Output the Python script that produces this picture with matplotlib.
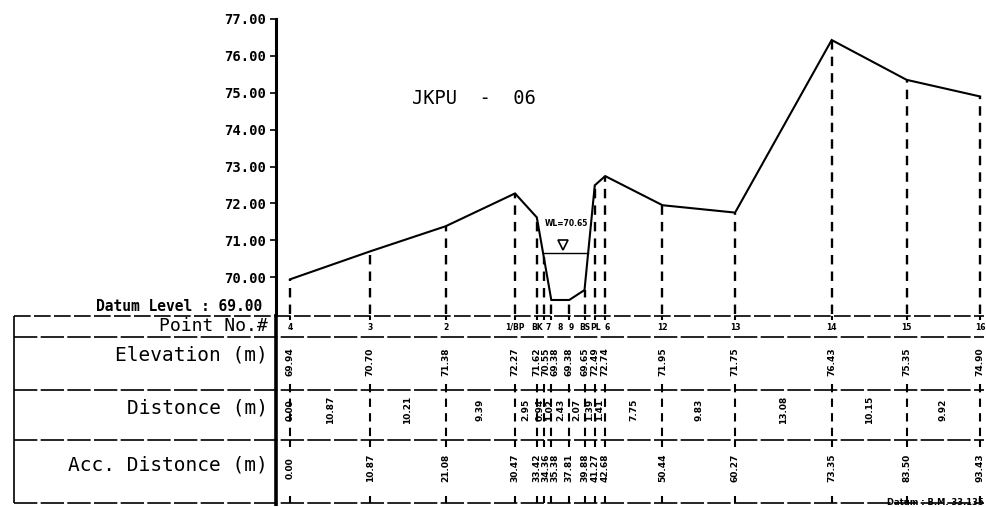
import numpy as np
import matplotlib
matplotlib.use("Agg")
import matplotlib.pyplot as plt

# cross-section JKPU-06 survey data
point_no = ["4", "3", "2", "1/BP", "BK", "7", "8", "9", "BS", "PL", "6",
            "12", "13", "14", "15", "16"]
acc_dist = [0.00, 10.87, 21.08, 30.47, 33.42, 34.36, 35.38, 37.81, 39.88,
            41.27, 42.68, 50.44, 60.27, 73.35, 83.50, 93.43]
elevation = [69.94, 70.70, 71.38, 72.27, 71.62, 70.55, 69.38, 69.38, 69.65,
             72.49, 72.74, 71.95, 71.75, 76.43, 75.35, 74.90]
distance = [0.00, 10.87, 10.21, 9.39, 2.95, 0.94, 1.02, 2.43, 2.07, 1.39,
            1.41, 7.75, 9.83, 13.08, 10.15, 9.92]
water_level = 70.65
datum = 69.00

W, H = 986, 507
PX = 7.385      # pixels per metre along the section
X0 = 290        # pixel of chainage 0
MONO = "DejaVu Sans Mono"


def xd(p):
    return (p - X0) / PX


def spread(xs, gap):
    # push crowded label positions apart (gap in metres)
    out = list(xs)
    for i in range(1, len(out)):
        if out[i] - out[i - 1] < gap:
            out[i] = out[i - 1] + gap
    return out


fig = plt.figure(figsize=(W / 100, H / 100), dpi=100)
bold = dict(fontweight="bold", color="black", family="DejaVu Sans")

# ---- profile ----
ax = fig.add_axes([276 / W, (H - 314) / H, (984 - 276) / W, (314 - 19) / H])
ax.set_xlim(xd(276), xd(984))
ax.set_ylim(datum, 77.0)
ax.plot(acc_dist, elevation, color="black", lw=1.5, solid_joinstyle="miter")
ax.vlines(acc_dist, datum, elevation, colors="black", linestyles=(0, (4, 3)), lw=1.7)

# water surface
ax.plot([34.27, 40.37], [water_level, water_level], color="black", lw=1.0)
ax.plot(37.0, water_level + 0.22, marker="v", ms=7, mfc="white", mec="black", mew=1.2)
ax.text(37.5, 71.45, f"WL={water_level:.2f}", fontsize=5.5, ha="center", va="center", **bold)

ax.text(xd(474), 74.85, "JKPU  -  06", fontsize=13.5, ha="center", va="center",
        color="black", family=MONO)

for s in ["top", "right", "bottom"]:
    ax.spines[s].set_visible(False)
ax.spines["left"].set_linewidth(2.2)
ax.set_xticks([])
ax.set_yticks(np.arange(70, 78))
ax.set_yticklabels([f"{v:.2f}" for v in np.arange(70, 78)], fontsize=10,
                   fontweight="bold", family=MONO)
ax.tick_params(axis="y", length=4, width=1.2, pad=3)
ax.text(xd(262), datum, "Datum Level : 69.00", fontsize=10.5, ha="right", va="bottom",
        fontweight="bold", color="black", family=MONO)

# ---- data table under the profile ----
tb = fig.add_axes([12 / W, 0, (984 - 12) / W, (H - 314) / H])
tb.set_xlim(xd(12), xd(984))
tb.set_ylim(H, 314)
tb.axis("off")

rows = [316, 337, 390, 440, 503]
x_left, x_right = xd(14), xd(986)
tb.hlines(rows[0], x_left, x_right, colors="black", lw=1.2, linestyles=(0, (10, 2)))
tb.hlines(rows[1:], x_left, x_right, colors="black", lw=1.2, linestyles=(0, (14, 2)))
tb.vlines(x_left, rows[0], rows[-1], colors="black", lw=1.2)
tb.vlines(xd(276), 314, 506, colors="black", lw=2.6)

labels = ["Point No.#", "Elevation (m)", "Distonce (m)", "Acc. Distonce (m)"]
label_y = [326, 355, 408, 465]
label_fs = [13, 14, 14, 14]
for txt, yy, fs in zip(labels, label_y, label_fs):
    tb.text(xd(268), yy, txt, fontsize=fs, ha="right", va="center",
            color="black", family=MONO)

tb.vlines(acc_dist, 384, 440, colors="black", lw=1.5, linestyles=(0, (4, 3)))
tb.vlines(acc_dist, 440, 447, colors="black", lw=1.5)
tb.vlines(acc_dist, 496, 503, colors="black", lw=1.5)
tb.vlines(acc_dist, 316, 320, colors="black", lw=1.5)

pt_x = spread(acc_dist, 11.5 / PX)
for i, x in enumerate(pt_x):
    tb.text(x, 327, point_no[i], fontsize=5.5, ha="center", va="center", **bold)

lab_x = spread(acc_dist, 9.0 / PX)
for i, x in enumerate(lab_x):
    tb.text(x, 362, f"{elevation[i]:.2f}", fontsize=6.5, rotation=90,
            ha="center", va="center", **bold)
    tb.text(x, 468, f"{acc_dist[i]:.2f}", fontsize=6.5, rotation=90,
            ha="center", va="center", **bold)

mids = [acc_dist[0]] + [(acc_dist[i - 1] + acc_dist[i]) / 2 for i in range(1, len(acc_dist))]
mids = spread(mids, 9.0 / PX)
for i, x in enumerate(mids):
    tb.text(x, 410, f"{distance[i]:.2f}", fontsize=6.5, rotation=90,
            ha="center", va="center", **bold)

tb.text(xd(984), 507, "Datum : B.M. 33.135", fontsize=6, ha="right", va="bottom", **bold)

fig.savefig("out.png", dpi=100)
